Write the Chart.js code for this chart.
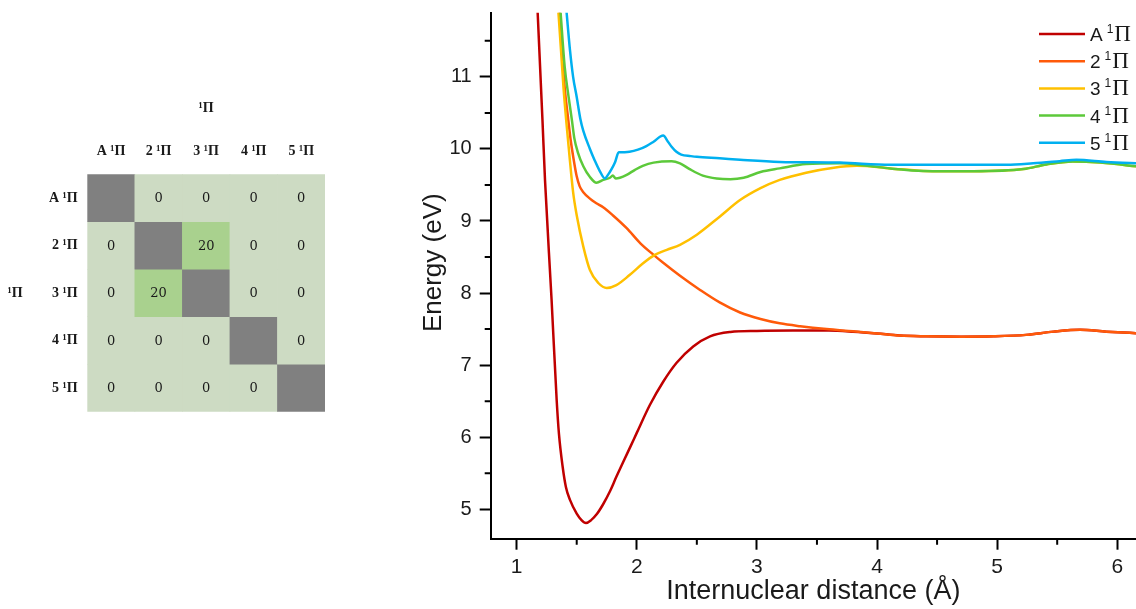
<!DOCTYPE html>
<html>
<head>
<meta charset="utf-8">
<title>1Π states: coupling matrix and potential energy curves</title>
<script src="https://cdn.jsdelivr.net/npm/chart.js@4.4.1/dist/chart.umd.min.js"></script>
<style>
  html, body { margin: 0; padding: 0; background: #fff; overflow: hidden; }
  body { width: 1136px; height: 609px; position: relative; }
  #couplingMatrix { position: absolute; left: 0; top: 0; }
  #pecChart { position: absolute; left: 400px; top: 0; }
</style>
</head>
<body>
<canvas id="couplingMatrix" width="345" height="430"></canvas>
<canvas id="pecChart" width="736" height="609"></canvas>
<script>
// states, in legend / matrix order
const stateNames = ['A', '2', '3', '4', '5'];
const stateLabels = ['A ¹Π', '2 ¹Π', '3 ¹Π', '4 ¹Π', '5 ¹Π'];
const stateColors = ['#c00000', '#ff5a0a', '#ffc000', '#5cc93a', '#00b0f0'];

// coupling between the 1Π states (diagonal left empty)
const couplingValues = [
    [null, 0, 0, 0, 0],
    [0, null, 20, 0, 0],
    [0, 20, null, 0, 0],
    [0, 0, 0, null, 0],
    [0, 0, 0, 0, null]
];

// potential energy curves: internuclear distance (Å) / energy (eV)
const rA = [1.160, 1.175, 1.215, 1.236, 1.291, 1.333, 1.352, 1.383, 1.410, 1.444, 1.500, 1.540, 1.577, 1.620, 1.666, 1.720, 1.777, 1.830, 1.888, 1.950, 2.000, 2.110, 2.220, 2.330, 2.470, 2.610, 2.780, 3.000, 3.300, 3.600, 3.800, 4.000, 4.190, 4.410, 4.700, 4.970, 5.240, 5.470, 5.690, 5.910, 6.200];
const eA = [12.50, 11.89, 10.40, 9.57, 7.90, 6.52, 6.05, 5.59, 5.31, 5.13, 4.94, 4.85, 4.81, 4.85, 4.93, 5.07, 5.25, 5.45, 5.66, 5.88, 6.06, 6.45, 6.77, 7.03, 7.26, 7.40, 7.46, 7.475, 7.48, 7.48, 7.465, 7.44, 7.41, 7.40, 7.395, 7.40, 7.42, 7.465, 7.49, 7.465, 7.44];

const r2 = [1.345, 1.358, 1.378, 1.400, 1.430, 1.450, 1.475, 1.500, 1.525, 1.555, 1.610, 1.660, 1.720, 1.800, 1.916, 2.030, 2.140, 2.220, 2.360, 2.530, 2.690, 2.860, 3.030, 3.190, 3.360, 3.580, 3.800, 4.000, 4.190, 4.410, 4.700, 4.970, 5.240, 5.470, 5.690, 5.910, 6.200];
const e2 = [12.30, 11.89, 11.35, 10.85, 10.40, 10.12, 9.85, 9.62, 9.48, 9.40, 9.31, 9.25, 9.19, 9.08, 8.90, 8.69, 8.53, 8.42, 8.24, 8.04, 7.87, 7.73, 7.64, 7.58, 7.54, 7.50, 7.47, 7.44, 7.41, 7.40, 7.395, 7.40, 7.42, 7.465, 7.49, 7.465, 7.44];

const r3 = [1.333, 1.348, 1.370, 1.390, 1.415, 1.440, 1.470, 1.500, 1.555, 1.610, 1.680, 1.750, 1.830, 1.940, 2.050, 2.150, 2.250, 2.360, 2.500, 2.690, 2.860, 3.030, 3.190, 3.410, 3.640, 3.830, 4.110, 4.385, 4.800, 5.220, 5.410, 5.630, 5.860, 6.200];
const e3 = [12.30, 11.89, 11.35, 10.85, 10.35, 9.90, 9.40, 9.08, 8.645, 8.32, 8.14, 8.07, 8.11, 8.25, 8.41, 8.53, 8.60, 8.67, 8.81, 9.06, 9.29, 9.455, 9.57, 9.67, 9.74, 9.765, 9.73, 9.695, 9.69, 9.72, 9.785, 9.825, 9.81, 9.75];

const r4 = [1.348, 1.366, 1.400, 1.430, 1.460, 1.480, 1.510, 1.555, 1.610, 1.665, 1.720, 1.777, 1.800, 1.825, 1.860, 1.916, 1.985, 2.050, 2.140, 2.290, 2.360, 2.440, 2.550, 2.665, 2.780, 2.890, 3.030, 3.190, 3.410, 3.690, 3.900, 4.110, 4.385, 4.800, 5.220, 5.410, 5.630, 5.860, 6.200];
const e4 = [12.30, 11.89, 11.14, 10.75, 10.40, 10.15, 9.95, 9.76, 9.61, 9.53, 9.57, 9.60, 9.63, 9.59, 9.60, 9.64, 9.71, 9.765, 9.81, 9.83, 9.80, 9.72, 9.63, 9.59, 9.58, 9.60, 9.68, 9.73, 9.79, 9.80, 9.77, 9.73, 9.695, 9.69, 9.72, 9.785, 9.825, 9.81, 9.75];

const r5 = [1.394, 1.416, 1.444, 1.470, 1.500, 1.530, 1.555, 1.610, 1.650, 1.690, 1.735, 1.760, 1.790, 1.820, 1.850, 1.900, 1.940, 2.010, 2.080, 2.140, 2.220, 2.260, 2.290, 2.330, 2.370, 2.450, 2.500, 2.690, 2.860, 3.190, 3.690, 4.110, 5.080, 5.300, 5.520, 5.660, 5.910, 6.200];
const e5 = [12.30, 11.89, 11.37, 11.00, 10.72, 10.42, 10.25, 10.00, 9.84, 9.70, 9.59, 9.64, 9.72, 9.82, 9.955, 9.955, 9.96, 9.99, 10.04, 10.10, 10.185, 10.10, 10.03, 9.96, 9.92, 9.90, 9.89, 9.87, 9.85, 9.82, 9.81, 9.78, 9.78, 9.80, 9.83, 9.85, 9.82, 9.80];

const distances = [rA, r2, r3, r4, r5];
const energies = [eA, e2, e3, e4, e5];

// axis ticks
const distanceTicks = [1, 2, 3, 4, 5, 6];
const distanceMinor = [1.5, 2.5, 3.5, 4.5, 5.5];
const energyTicks = [5, 6, 7, 8, 9, 10, 11];
const energyMinor = [5.5, 6.5, 7.5, 8.5, 9.5, 10.5, 11.5];

const SANS = '"Liberation Sans", Arial, sans-serif';
const SERIF = '"Liberation Serif", "Times New Roman", serif';
const INK = '#1a1a1a';

function cellColor(v) {
    if (v === null) return '#808080';
    return v > 0 ? '#a9d18e' : '#cddbc3';
}

// ---------- coupling matrix ----------
const cellText = {
    id: 'cellText',
    afterDatasetsDraw(chart) {
        const ctx = chart.ctx;
        ctx.save();
        ctx.font = '13px "DejaVu Serif", serif';
        ctx.fillStyle = INK;
        ctx.textAlign = 'center';
        ctx.textBaseline = 'middle';
        chart.data.datasets.forEach((ds, row) => {
            chart.getDatasetMeta(row).data.forEach((bar, col) => {
                const v = couplingValues[row][col];
                if (v === null) return;
                ctx.fillText(String(v), bar.x, (bar.y + bar.base) / 2 + 1);
            });
        });
        // row-axis title, kept horizontal
        ctx.font = 'bold 14px ' + SERIF;
        ctx.fillText('¹Π', 15, chart.scales.y.getPixelForValue(2.5));
        ctx.restore();
    }
};

new Chart(document.getElementById('couplingMatrix'), {
    type: 'bar',
    data: {
        labels: stateLabels,
        datasets: stateLabels.map((name, row) => ({
            label: name,
            data: stateLabels.map(() => [row, row + 1]),
            backgroundColor: ctx => cellColor(couplingValues[row][ctx.dataIndex]),
            borderWidth: 0,
            categoryPercentage: 1,
            barPercentage: 1,
            grouped: false
        }))
    },
    options: {
        responsive: false,
        animation: false,
        layout: { padding: { top: 0, left: 0, right: 20, bottom: 18.3 } },
        plugins: { legend: { display: false }, tooltip: { enabled: false } },
        scales: {
            x: {
                position: 'top',
                grid: { display: false, drawTicks: false },
                border: { display: false },
                ticks: { font: { family: SERIF, size: 14, weight: 'bold' }, color: INK, padding: 14.2, maxRotation: 0, autoSkip: false },
                title: { display: true, text: '¹Π', color: INK, font: { family: SERIF, size: 14, weight: 'bold' }, padding: { top: 99.6, bottom: 0 } },
                afterFit: s => { s.height = 174.3; }
            },
            y: {
                type: 'linear',
                reverse: true,
                min: 0,
                max: 5,
                grid: { display: false, drawTicks: false },
                border: { display: false },
                afterBuildTicks: s => { s.ticks = stateLabels.map((_, i) => ({ value: i + 0.5 })); },
                ticks: { callback: (v, i) => stateLabels[i], font: { family: SERIF, size: 14, weight: 'bold' }, color: INK, padding: 9.6, autoSkip: false },
                afterFit: s => { s.width = 87.3; }
            }
        }
    },
    plugins: [cellText]
});

// ---------- potential energy curves ----------
const minorTicks = {
    id: 'minorTicks',
    afterDraw(chart) {
        const { ctx, chartArea, scales: { x, y } } = chart;
        ctx.save();
        ctx.strokeStyle = '#000';
        ctx.lineWidth = 2;
        ctx.beginPath();
        distanceMinor.forEach(v => {
            const px = x.getPixelForValue(v);
            ctx.moveTo(px, chartArea.bottom);
            ctx.lineTo(px, chartArea.bottom + 6);
        });
        energyMinor.forEach(v => {
            const py = y.getPixelForValue(v);
            ctx.moveTo(chartArea.left, py);
            ctx.lineTo(chartArea.left - 6, py);
        });
        ctx.stroke();

        // energy axis title, set a little above the middle of the axis
        ctx.fillStyle = INK;
        ctx.font = '26px ' + SANS;
        ctx.textAlign = 'center';
        ctx.textBaseline = 'middle';
        ctx.translate(34, chartArea.top + 250);
        ctx.rotate(-Math.PI / 2);
        ctx.fillText('Energy (eV)', 0, 0);
        ctx.restore();
    }
};

// legend with a serif Π and raised spin multiplicity
const stateLegend = {
    id: 'stateLegend',
    afterDraw(chart) {
        const ctx = chart.ctx;
        const x0 = chart.chartArea.right - 97;
        ctx.save();
        stateNames.forEach((name, i) => {
            const y = 34 + i * 27.2;
            ctx.strokeStyle = stateColors[i];
            ctx.lineWidth = 2.5;
            ctx.beginPath();
            ctx.moveTo(x0, y);
            ctx.lineTo(x0 + 46, y);
            ctx.stroke();

            ctx.fillStyle = INK;
            ctx.textBaseline = 'alphabetic';
            const base = y + 7;
            let x = x0 + 51;
            ctx.font = '19px ' + SANS;
            ctx.fillText(name, x, base);
            x += ctx.measureText(name).width + 4;
            ctx.font = '12px ' + SANS;
            ctx.fillText('1', x, base - 8);
            x += ctx.measureText('1').width + 1;
            ctx.font = '23px ' + SERIF;
            ctx.fillText('Π', x, base);
        });
        ctx.restore();
    }
};

new Chart(document.getElementById('pecChart'), {
    type: 'line',
    data: {
        datasets: stateLabels.map((name, i) => ({
            label: name,
            data: distances[i].map((r, k) => ({ x: r, y: energies[i][k] })),
            borderColor: stateColors[i],
            borderWidth: 2.5,
            pointRadius: 0,
            cubicInterpolationMode: 'monotone',
            fill: false,
            order: stateLabels.length - 1 - i
        }))
    },
    options: {
        responsive: false,
        animation: false,
        layout: { padding: { top: 12.7, right: 0, bottom: 0, left: 0 } },
        plugins: { legend: { display: false }, tooltip: { enabled: false } },
        scales: {
            x: {
                type: 'linear',
                min: 0.784,
                max: 6.156,
                afterBuildTicks: s => { s.ticks = distanceTicks.map(v => ({ value: v })); },
                grid: { drawOnChartArea: false, tickLength: 11, tickWidth: 2, tickColor: '#000' },
                border: { color: '#000', width: 2 },
                ticks: { font: { family: SANS, size: 21 }, color: INK, padding: 5, maxRotation: 0 },
                title: { display: true, text: 'Internuclear distance (Å)', color: INK, font: { family: SANS, size: 27 }, padding: { top: 0, bottom: 1 } },
                afterFit: s => { s.height = 70.3; s.paddingLeft = 0; s.paddingRight = 0; }
            },
            y: {
                type: 'linear',
                min: 4.592,
                max: 11.89,
                afterBuildTicks: s => { s.ticks = energyTicks.map(v => ({ value: v })); },
                grid: { drawOnChartArea: false, tickLength: 11, tickWidth: 2, tickColor: '#000' },
                border: { color: '#000', width: 2 },
                ticks: { font: { family: SANS, size: 20 }, color: INK, padding: 8 },
                afterFit: s => { s.width = 90.7; s.paddingTop = 0; s.paddingBottom = 0; }
            }
        }
    },
    plugins: [minorTicks, stateLegend]
});
</script>
</body>
</html>
